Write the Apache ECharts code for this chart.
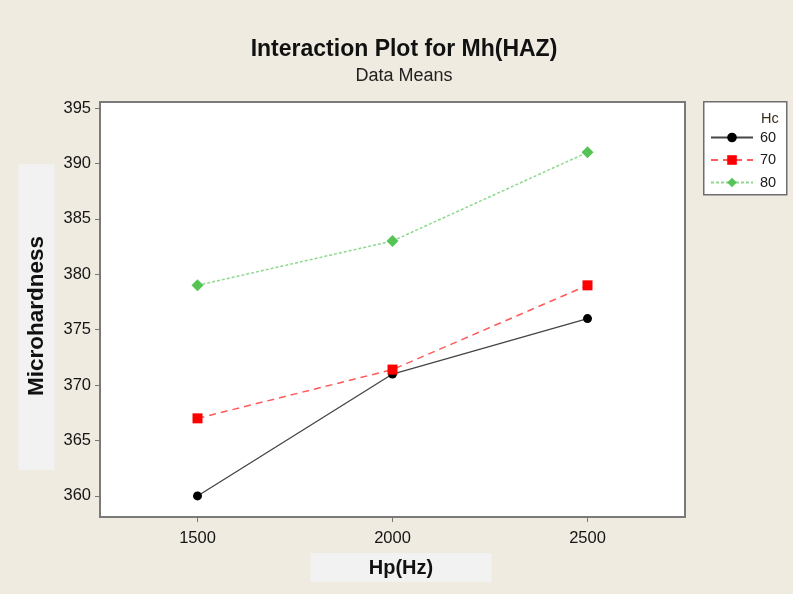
<!DOCTYPE html>
<html><head><meta charset="utf-8">
<script src="https://cdn.jsdelivr.net/npm/echarts@6/dist/echarts.min.js"></script>
<style>html,body{margin:0;padding:0;background:#f0ebe1;}#c{width:793px;height:594px;}</style>
</head><body><div id="c"></div>
<script>
const categories = ['1500', '2000', '2500'];
const hc60 = [360, 371, 376];
const hc70 = [367, 371.4, 379];
const hc80 = [379, 383, 391];
const yTicks = [360, 365, 370, 375, 380, 385, 390, 395];
const legendNames = ['60', '70', '80'];

const font = 'Liberation Sans';
const chart = echarts.init(document.getElementById('c'));
chart.setOption({
  backgroundColor: '#f0ebe1',
  animation: false,
  title: [
    {text: 'Interaction Plot for Mh(HAZ)', left: 399, top: 33, textAlign: 'center',
     textStyle: {fontFamily: font, fontWeight: 'bold', fontSize: 23, color: '#111'}},
    {text: 'Data Means', left: 399, top: 62, textAlign: 'center',
     textStyle: {fontFamily: font, fontWeight: 'normal', fontSize: 18, color: '#222'}},
    {text: 'Hc', left: 756, top: 106,
     textStyle: {fontFamily: font, fontWeight: 'normal', fontSize: 14.5, color: '#3a2a1a'}}
  ],
  graphic: [
    {type: 'rect', left: 703, top: 101, shape: {width: 83, height: 93},
     style: {fill: '#ffffff', stroke: '#6e6e6e', lineWidth: 1.5}, z: -1},
    {type: 'rect', shape: {x: 18.5, y: 164, width: 36, height: 306},
     style: {fill: '#f2f2f2'}, z: -1},
    {type: 'text', x: 36.5, y: 316, rotation: Math.PI / 2,
     style: {text: 'Microhardness', fontFamily: font, fontWeight: 'bold', fontSize: 22.5,
       fill: '#111', align: 'center', verticalAlign: 'middle'}},
    {type: 'rect', shape: {x: 310.5, y: 553, width: 181, height: 29},
     style: {fill: '#f2f2f2'}, z: -1},
    {type: 'text', x: 401, y: 568,
     style: {text: 'Hp(Hz)', fontFamily: font, fontWeight: 'bold', fontSize: 20,
       fill: '#111', align: 'center', verticalAlign: 'middle'}}
  ],
  legend: {
    data: legendNames, orient: 'vertical', left: 705, top: 125,
    itemWidth: 42, itemHeight: 12, itemGap: 7.5,
    textStyle: {fontFamily: font, fontSize: 14.5, color: '#1a1a1a', lineHeight: 14, padding: [0, 0, 0, 2]}
  },
  grid: {left: 100, top: 102, width: 585, height: 415, show: true,
         outerBoundsMode: 'none', containLabel: false,
         backgroundColor: '#ffffff', borderColor: '#7a7a7a', borderWidth: 2},
  xAxis: {
    type: 'category', data: categories, boundaryGap: true,
    axisLine: {show: false},
    axisTick: {show: true, alignWithLabel: true, length: 5, lineStyle: {color: '#777'}},
    axisLabel: {fontFamily: font, fontSize: 16.5, color: '#151515', margin: 13},
    splitLine: {show: false}
  },
  yAxis: {
    type: 'value', min: 358.1, max: 395.54,
    axisLine: {show: false},
    axisTick: {show: true, length: 5, lineStyle: {color: '#777'}, customValues: yTicks},
    axisLabel: {fontFamily: font, fontSize: 16.5, color: '#151515', margin: 9, customValues: yTicks},
    splitLine: {show: false}
  },
  series: [
    {name: '60', type: 'line', data: hc60, symbol: 'circle', symbolSize: 9,
     itemStyle: {color: '#000000'}, lineStyle: {color: '#444444', width: 1.3, type: 'solid'}},
    {name: '70', type: 'line', data: hc70, symbol: 'rect', symbolSize: 10,
     itemStyle: {color: '#ff0000'}, lineStyle: {color: '#ff5a5a', width: 1.5, type: [7, 5]}},
    {name: '80', type: 'line', data: hc80, symbol: 'diamond', symbolSize: 12,
     itemStyle: {color: '#55c455'}, lineStyle: {color: '#8fd88f', width: 1.5, type: [3, 2]}}
  ]
});
</script></body></html>
